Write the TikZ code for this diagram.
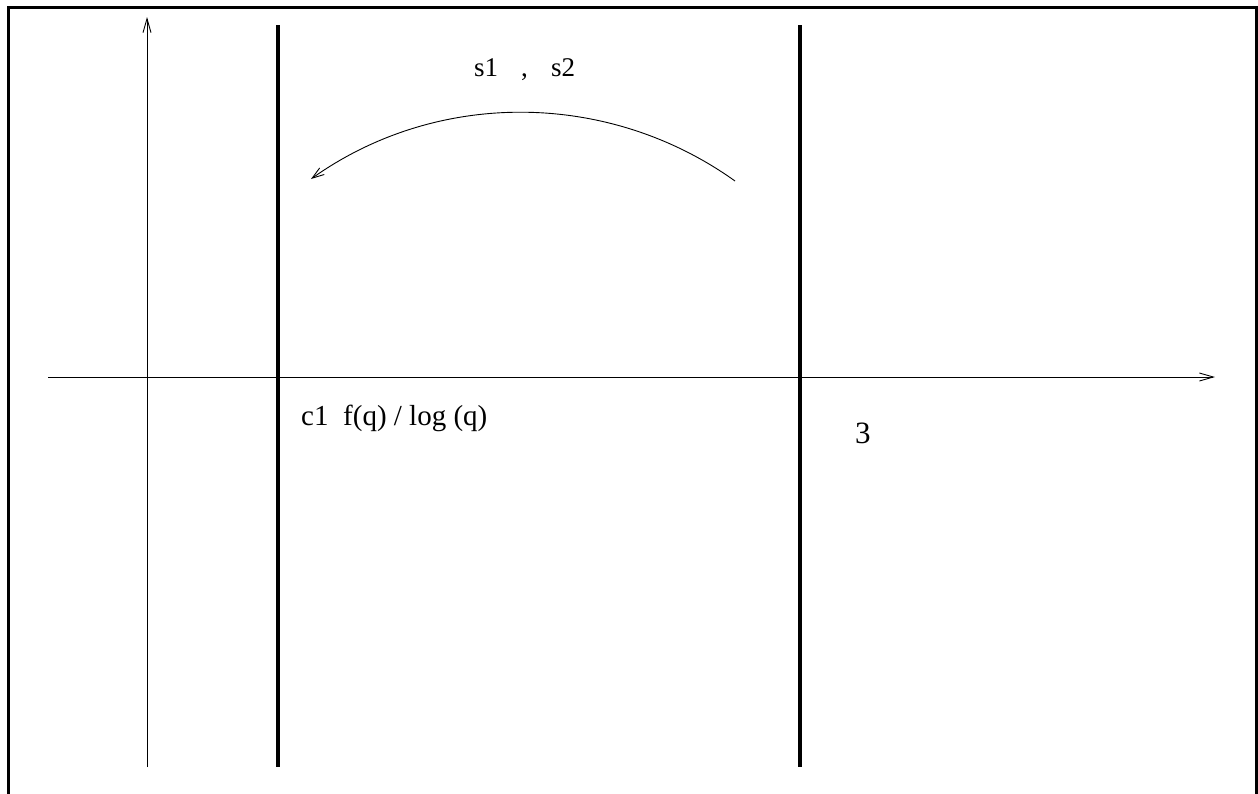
\documentclass[tikz,border=0pt]{standalone}
\usepackage{fontspec}
\setmainfont{Liberation Serif}
\usetikzlibrary{arrows.meta}
\tikzset{
  frameline/.style={line width=3pt},
  thickline/.style={line width=3.2pt},
  axisline/.style={line width=0.9pt, -{Straight Barb[length=14pt,width=8pt,line width=0.9pt]}},
  arcline/.style={line width=0.9pt, -{Straight Barb[length=12pt,width=8pt,line width=0.9pt]}},
  lbl/.style={inner sep=0pt, anchor=base west},
}
\begin{document}
\begin{tikzpicture}[x=1pt,y=-1pt]
\useasboundingbox (0,0) rectangle (1258,793);
\clip (0,0) rectangle (1258,793);
% frame
\coordinate (ftl) at (8,7);
\coordinate (fbr) at (1256,810);
\draw[frameline] (ftl) rectangle (fbr);
% axes
\coordinate (yb) at (147,767);
\coordinate (yt) at (147,17);
\coordinate (xl) at (48,377);
\coordinate (xr) at (1215,377);
\draw[axisline] (yb) -- (yt);
\draw[axisline] (xl) -- (xr);
% thick verticals
\coordinate (at) at (278,25);
\coordinate (ab) at (278,767);
\coordinate (bt) at (800,25);
\coordinate (bb) at (800,767);
\draw[thickline] (at) -- (ab);
\draw[thickline] (bt) -- (bb);
% arc
\coordinate (arcs) at (735,181);
\coordinate (arce) at (311,179);
\draw[arcline] (arcs) .. controls (608.7,90.6) and (437.7,89) .. (arce);
% labels
\node[lbl, font=\fontsize{27}{32}\selectfont] (s1) at (474,76.5) {s1};
\node[lbl, font=\fontsize{27}{32}\selectfont] (cm) at (521,76.5) {,};
\node[lbl, font=\fontsize{27}{32}\selectfont] (s2) at (551,76.5) {s2};
\node[lbl, font=\fontsize{29}{34}\selectfont] (c1) at (301,425) {c1};
\node[lbl, font=\fontsize{29}{34}\selectfont] (fq) at (343,425) {f(q) / log (q)};
\node[lbl, font=\fontsize{31}{36}\selectfont] (n3) at (855,443) {3};
\end{tikzpicture}
\end{document}
